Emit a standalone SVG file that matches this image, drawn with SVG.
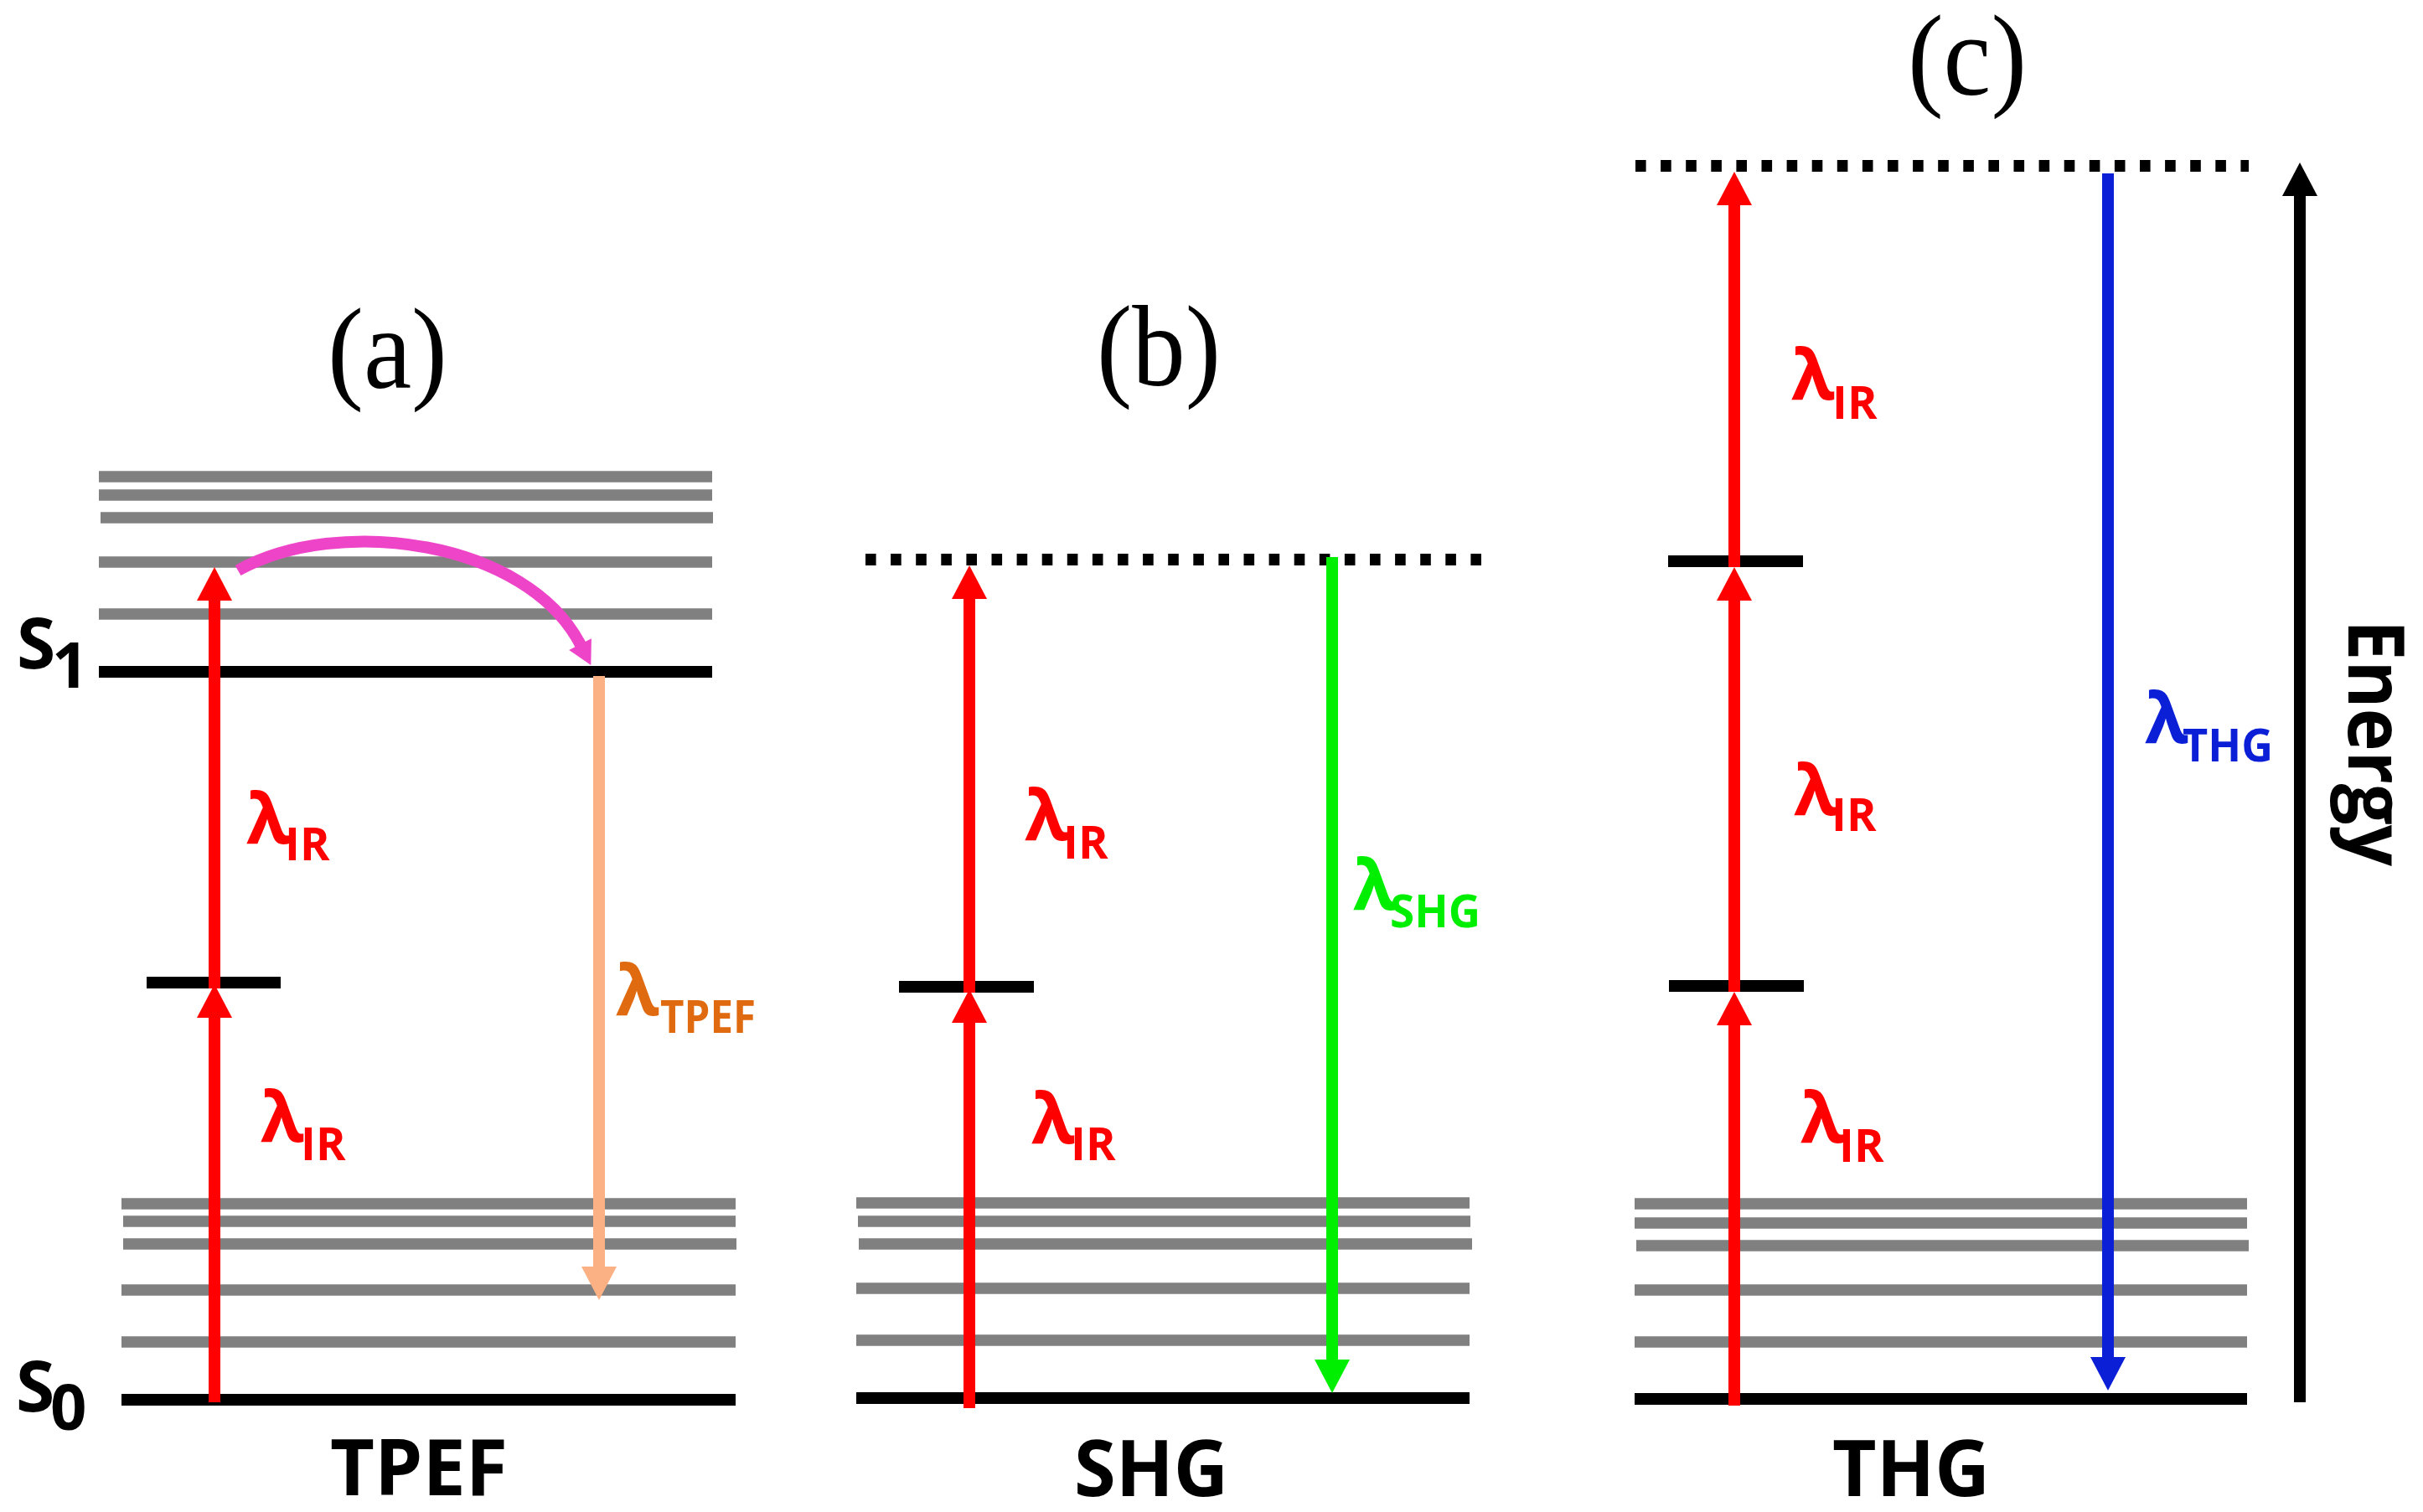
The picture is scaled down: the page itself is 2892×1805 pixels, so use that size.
<svg xmlns="http://www.w3.org/2000/svg" width="2892" height="1805" viewBox="0 0 2892 1805">
<style>
.gray{stroke:#808080;stroke-width:13.5;fill:none}
.lvl{stroke:#000;stroke-width:14;fill:none}
.dot{stroke:#000;stroke-width:14;stroke-dasharray:12.6 17.5;fill:none}
.ar{stroke-width:14;fill:none}
.sans{font-family:"Open Sans","Noto Sans","DejaVu Sans",sans-serif;font-weight:bold}
.serif{font-family:"Liberation Serif","Times New Roman",serif;font-size:138px;fill:#000}
.lam{font-size:84px}
.sub{font-size:54px}
.big{font-size:94px;fill:#000}
.red{fill:#FF0000}
</style>
<defs>
<marker id="hr" markerUnits="userSpaceOnUse" markerWidth="42" markerHeight="42" refX="1" refY="21" orient="auto" overflow="visible"><path d="M0,0 L40,21 L0,42 Z" fill="#FF0000"/></marker>
<marker id="hg" markerUnits="userSpaceOnUse" markerWidth="42" markerHeight="42" refX="1" refY="21" orient="auto" overflow="visible"><path d="M0,0 L40,21 L0,42 Z" fill="#00EE00"/></marker>
<marker id="hb" markerUnits="userSpaceOnUse" markerWidth="42" markerHeight="42" refX="1" refY="21" orient="auto" overflow="visible"><path d="M0,0 L40,21 L0,42 Z" fill="#0B1FD6"/></marker>
<marker id="ho" markerUnits="userSpaceOnUse" markerWidth="42" markerHeight="42" refX="1" refY="21" orient="auto" overflow="visible"><path d="M0,0 L40,21 L0,42 Z" fill="#FBB183"/></marker>
<marker id="hk" markerUnits="userSpaceOnUse" markerWidth="42" markerHeight="42" refX="1" refY="21" orient="auto" overflow="visible"><path d="M0,0 L40,21 L0,42 Z" fill="#000"/></marker>
<marker id="hm" markerUnits="userSpaceOnUse" markerWidth="30" markerHeight="30" refX="1" refY="15" orient="auto" overflow="visible"><path d="M0,0 L28,15 L0,30 Z" fill="#EE45C8"/></marker>
</defs>
<rect width="2892" height="1805" fill="#fff"/>

<g id="panel-a-levels">
<line class="gray" x1="118" y1="569" x2="850" y2="569"/>
<line class="gray" x1="118" y1="591" x2="850" y2="591"/>
<line class="gray" x1="120" y1="618" x2="851" y2="618"/>
<line class="gray" x1="118" y1="671" x2="850" y2="671"/>
<line class="gray" x1="118" y1="733" x2="850" y2="733"/>
<line class="lvl" x1="118" y1="802" x2="850" y2="802"/>
<line class="lvl" x1="175" y1="1173" x2="335" y2="1173"/>
<line class="gray" x1="145" y1="1437" x2="878" y2="1437"/>
<line class="gray" x1="147" y1="1458" x2="878" y2="1458"/>
<line class="gray" x1="147" y1="1485" x2="879" y2="1485"/>
<line class="gray" x1="145" y1="1540" x2="878" y2="1540"/>
<line class="gray" x1="145" y1="1602" x2="878" y2="1602"/>
<line class="lvl" x1="145" y1="1671" x2="878" y2="1671"/>
</g>

<g id="panel-b-levels">
<line class="dot" x1="1033" y1="668" x2="1768" y2="668"/>
<line class="lvl" x1="1073" y1="1178" x2="1234" y2="1178"/>
<line class="gray" x1="1022" y1="1436" x2="1754" y2="1436"/>
<line class="gray" x1="1024" y1="1458" x2="1755" y2="1458"/>
<line class="gray" x1="1025" y1="1485" x2="1757" y2="1485"/>
<line class="gray" x1="1022" y1="1538" x2="1754" y2="1538"/>
<line class="gray" x1="1022" y1="1600" x2="1754" y2="1600"/>
<line class="lvl" x1="1022" y1="1669" x2="1754" y2="1669"/>
</g>

<g id="panel-c-levels">
<line class="dot" x1="1952" y1="198" x2="2684" y2="198"/>
<line class="lvl" x1="1991" y1="670" x2="2152" y2="670"/>
<line class="lvl" x1="1992" y1="1177" x2="2153" y2="1177"/>
<line class="gray" x1="1951" y1="1437" x2="2682" y2="1437"/>
<line class="gray" x1="1951" y1="1460" x2="2682" y2="1460"/>
<line class="gray" x1="1953" y1="1487" x2="2684" y2="1487"/>
<line class="gray" x1="1951" y1="1540" x2="2682" y2="1540"/>
<line class="gray" x1="1951" y1="1602" x2="2682" y2="1602"/>
<line class="lvl" x1="1951" y1="1670" x2="2682" y2="1670"/>
</g>

<g id="connectors">
<line class="ar" stroke="#FF0000" x1="256" y1="1674" x2="256" y2="1214" marker-end="url(#hr)"/>
<line class="ar" stroke="#FF0000" x1="256" y1="1180" x2="256" y2="716" marker-end="url(#hr)"/>
<path class="ar" stroke="#EE45C8" stroke-width="11" d="M284,681 C404,614 629,645 693,770" marker-end="url(#hm)"/>
<line class="ar" stroke="#FBB183" stroke-width="13" x1="715" y1="807" x2="715" y2="1513" marker-end="url(#ho)"/>
<line class="ar" stroke="#FF0000" x1="1157" y1="1681" x2="1157" y2="1220" marker-end="url(#hr)"/>
<line class="ar" stroke="#FF0000" x1="1157" y1="1185" x2="1157" y2="714" marker-end="url(#hr)"/>
<line class="ar" stroke="#00EE00" x1="1590" y1="665" x2="1590" y2="1624" marker-end="url(#hg)"/>
<line class="ar" stroke="#FF0000" x1="2070" y1="1678" x2="2070" y2="1223" marker-end="url(#hr)"/>
<line class="ar" stroke="#FF0000" x1="2070" y1="1184" x2="2070" y2="716" marker-end="url(#hr)"/>
<line class="ar" stroke="#FF0000" x1="2070" y1="677" x2="2070" y2="244" marker-end="url(#hr)"/>
<line class="ar" stroke="#0B1FD6" x1="2516" y1="207" x2="2516" y2="1621" marker-end="url(#hb)"/>
<line class="ar" stroke="#000" x1="2745" y1="1674" x2="2745" y2="233" marker-end="url(#hk)"/>
</g>

<g id="labels-a">
<text class="serif" x="391" y="463" textLength="143" lengthAdjust="spacingAndGlyphs">(a)</text>
<text class="sans" font-size="84" x="20" y="798">S</text>
<text class="sans" font-size="76" x="62" y="821">1</text>
<text class="sans" font-size="84" x="19" y="1685">S</text>
<text class="sans" font-size="76" x="60" y="1707">0</text>
<text class="sans lam red" x="294" y="1007">λ</text>
<text class="sans sub red" x="340" y="1027">IR</text>
<text class="sans lam red" x="311" y="1363">λ</text>
<text class="sans sub red" x="359" y="1385">IR</text>
<text class="sans lam" fill="#E06A10" x="735" y="1212">λ</text>
<text class="sans sub" fill="#E06A10" x="788" y="1233" textLength="114" lengthAdjust="spacingAndGlyphs">TPEF</text>
<text class="sans big" x="394" y="1785" textLength="212" lengthAdjust="spacingAndGlyphs">TPEF</text>
</g>

<g id="labels-b">
<text class="serif" x="1309" y="460" textLength="148" lengthAdjust="spacingAndGlyphs">(b)</text>
<text class="sans lam red" x="1223" y="1003">λ</text>
<text class="sans sub red" x="1269" y="1025">IR</text>
<text class="sans lam red" x="1231" y="1365">λ</text>
<text class="sans sub red" x="1278" y="1385">IR</text>
<text class="sans lam" fill="#00EE00" x="1615" y="1086">λ</text>
<text class="sans sub" fill="#00EE00" x="1659" y="1107" textLength="108" lengthAdjust="spacingAndGlyphs">SHG</text>
<text class="sans big" x="1282" y="1786" textLength="184" lengthAdjust="spacingAndGlyphs">SHG</text>
</g>

<g id="labels-c">
<text class="serif" x="2277" y="113" textLength="142" lengthAdjust="spacingAndGlyphs">(c)</text>
<text class="sans lam red" x="2138" y="477">λ</text>
<text class="sans sub red" x="2187" y="500">IR</text>
<text class="sans lam red" x="2141" y="973">λ</text>
<text class="sans sub red" x="2186" y="992">IR</text>
<text class="sans lam red" x="2149" y="1364">λ</text>
<text class="sans sub red" x="2195" y="1387">IR</text>
<text class="sans lam" fill="#0B1FD6" x="2560" y="887">λ</text>
<text class="sans sub" fill="#0B1FD6" x="2605" y="909" textLength="108" lengthAdjust="spacingAndGlyphs">THG</text>
<text class="sans big" x="2187" y="1786" textLength="188" lengthAdjust="spacingAndGlyphs">THG</text>
</g>

<g id="energy-axis-label">
<text class="sans big" transform="translate(2803,740) rotate(90)" x="0" y="0" textLength="294" lengthAdjust="spacingAndGlyphs">Energy</text>
</g>
</svg>
